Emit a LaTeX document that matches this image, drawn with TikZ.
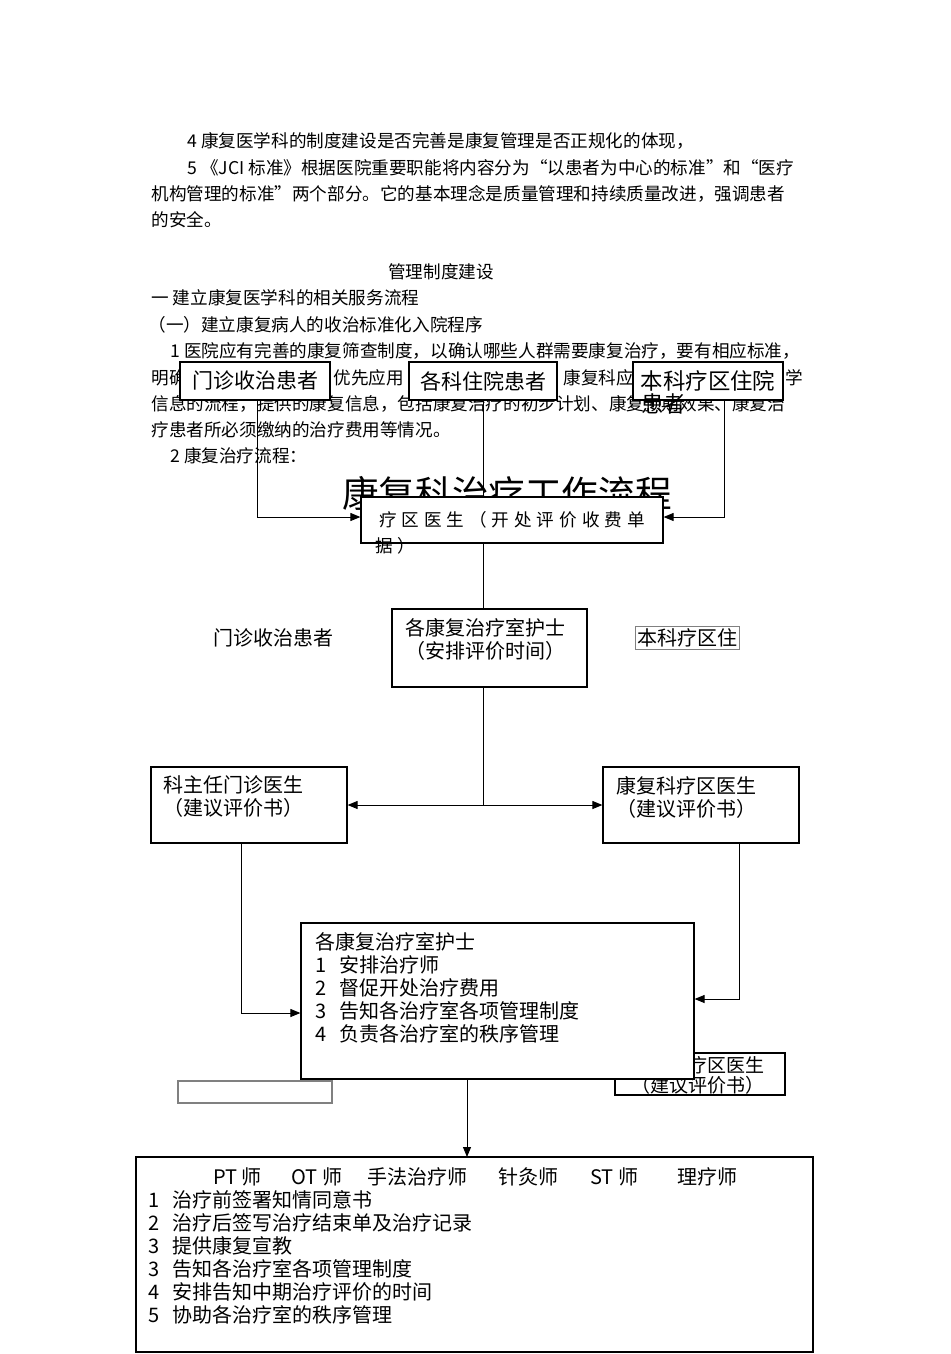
\documentclass[tikz,border=0pt]{standalone}
\usepackage{fontspec}
\setmainfont{Noto Sans CJK SC}
\newfontfamily\widecjk[LetterSpace=28]{Noto Sans CJK SC}
\usetikzlibrary{arrows.meta}

\begin{document}
\begin{tikzpicture}[x=0.5pt,y=-0.5pt,
	box/.style={draw, line width=0.6pt, fill=white, inner sep=0pt},
	txt/.style={anchor=west, inner sep=0pt, font=\fontsize{8.8}{10}\selectfont},
	lbl/.style={anchor=west, inner sep=0pt, align=left, font=\fontsize{10}{11.5}\selectfont},
	lnk/.style={line width=0.5pt},
	arr/.style={line width=0.5pt, -{Triangle[length=5pt,width=4pt]}},
	arrs/.style={line width=0.5pt, {Triangle[length=5pt,width=4pt]}-{Triangle[length=5pt,width=4pt]}}]
	\useasboundingbox (0,0) rectangle (950,1354);
	\node[txt] (p1) at (187,141) {4 康复医学科的制度建设是否完善是康复管理是否正规化的体现，};
	\node[txt] (p2) at (187,168) {5 《JCI 标准》根据医院重要职能将内容分为“以患者为中心的标准”和“医疗};
	\node[txt] (p3) at (151,194) {机构管理的标准”两个部分。它的基本理念是质量管理和持续质量改进，强调患者};
	\node[txt] (p4) at (151,220) {的安全。};
	\node[txt, anchor=center] (hd) at (441,272) {管理制度建设};
	\node[txt] (p6) at (151,298) {一 建立康复医学科的相关服务流程};
	\node[txt] (p7) at (148,325) {（一）建立康复病人的收治标准化入院程序};
	\node[txt] (p8) at (170,351) {1 医院应有完善的康复筛查制度，以确认哪些人群需要康复治疗，要有相应标准，};
	\node[txt] (p9a) at (151,378) {明确};
	\node[txt] (p9b) at (333,378) {优先应用};
	\node[txt] (p9c) at (563,378) {康复科应};
	\node[txt] (p9d) at (785,378) {学};
	\node[txt] (p10) at (151,404) {信息的流程，提供的康复信息，包括康复治疗的初步计划、康复预期效果、康复治};
	\node[txt] (p11) at (151,430) {疗患者所必须缴纳的治疗费用等情况。};
	\node[txt] (p12) at (170,456) {2 康复治疗流程：};

	\node[inner sep=0pt, font=\fontsize{18.3}{20}\selectfont] (T) at (507,493) {康复科治疗工作流程};

	\node[box, minimum width=75pt, minimum height=19pt, font=\fontsize{10.5}{12}\selectfont] (A) at (255,381) {门诊收治患者};
	\node[box, minimum width=74pt, minimum height=19pt, font=\fontsize{10.5}{12}\selectfont] (B) at (483,381) {各科住院患者};
	\node[box, minimum width=75pt, minimum height=19pt, font=\fontsize{11.2}{12}\selectfont] (C) at (708,381) {本科疗区住院};
	\node[lbl, font=\fontsize{11.2}{12}\selectfont] (C2) at (641,404) {患者};

	\node[box, minimum width=151pt, minimum height=23pt, font=\widecjk\fontsize{8.8}{10}\selectfont] (D) at (512,520) {疗区医生（开处评价收费单};
	\node[txt, font=\widecjk\fontsize{8.8}{10}\selectfont] (D2) at (375,546) {据）};

	\node[box, minimum width=97.5pt, minimum height=39pt] (E) at (489.5,648) {};
	\node[lbl] (E1) at (405,639.5) {各康复治疗室护士\\（安排评价时间）};
	\node[lbl] (M) at (213,638) {门诊收治患者};
	\node[draw=gray, line width=0.4pt, inner sep=1pt, font=\fontsize{10}{11}\selectfont] (N) at (687,638) {本科疗区住};

	\node[box, minimum width=98pt, minimum height=38pt] (F) at (249,805) {};
	\node[lbl] (F1) at (163,797) {科主任门诊医生\\（建议评价书）};
	\node[box, minimum width=98pt, minimum height=38pt] (G) at (701,805) {};
	\node[lbl] (G1) at (616,797) {康复科疗区医生\\（建议评价书）};

	\node[box, minimum width=85pt, minimum height=21pt] (J) at (700,1074) {};
	\node[lbl, font=\fontsize{9.5}{10}\selectfont] (J1) at (631,1075) {康复科疗区医生\\（建议评价书）};
	\node[draw=gray, line width=0.6pt, minimum width=77pt, minimum height=11pt, inner sep=0pt] (K) at (255,1092) {};

	\node[box, minimum width=196.5pt, minimum height=78pt] (H) at (497.5,1001) {};
	\node[lbl] (H1) at (315,988) {各康复治疗室护士\\\makebox[12pt][l]{1}安排治疗师\\\makebox[12pt][l]{2}督促开处治疗费用\\\makebox[12pt][l]{3}告知各治疗室各项管理制度\\\makebox[12pt][l]{4}负责各治疗室的秩序管理};

	\node[box, minimum width=338.5pt, minimum height=97.5pt] (I) at (474.5,1254.5) {};
	\foreach \x/\s [count=\i] in {213/PT 师, 291/OT 师, 367/手法治疗师, 498/针灸师, 590/ST 师, 677/理疗师}
		\node[lbl] (th\i) at (\x,1177) {\s};
	\node[lbl] (I1) at (148,1257.5) {\makebox[12pt][l]{1}治疗前签署知情同意书\\\makebox[12pt][l]{2}治疗后签写治疗结束单及治疗记录\\\makebox[12pt][l]{3}提供康复宣教\\\makebox[12pt][l]{3}告知各治疗室各项管理制度\\\makebox[12pt][l]{4}安排告知中期治疗评价的时间\\\makebox[12pt][l]{5}协助各治疗室的秩序管理};

	\coordinate (a1) at (257,517);
	\coordinate (c1) at (724,517);
	\coordinate (f1) at (241,1013);
	\coordinate (g1) at (739,999);
	\coordinate (h1) at (467,1157);

	\draw[arr] (A.south -| a1) -- (a1) -- (a1 -| D.west);
	\draw[lnk] (B.south) -- (B.south |- D.north);
	\draw[arr] (C.south -| c1) -- (c1) -- (c1 -| D.east);
	\draw[lnk] (D.south -| B.south) -- (E.north -| B.south);
	\draw[lnk] (E.south -| B.south) -- (B.south |- F.east);
	\draw[arrs] (F.east) -- (G.west);
	\draw[arr] (F.south -| f1) -- (f1) -- (f1 -| H.west);
	\draw[arr] (G.south -| g1) -- (g1) -- (g1 -| H.east);
	\draw[arr] (H.south -| h1) -- (h1);
\end{tikzpicture}
\end{document}
